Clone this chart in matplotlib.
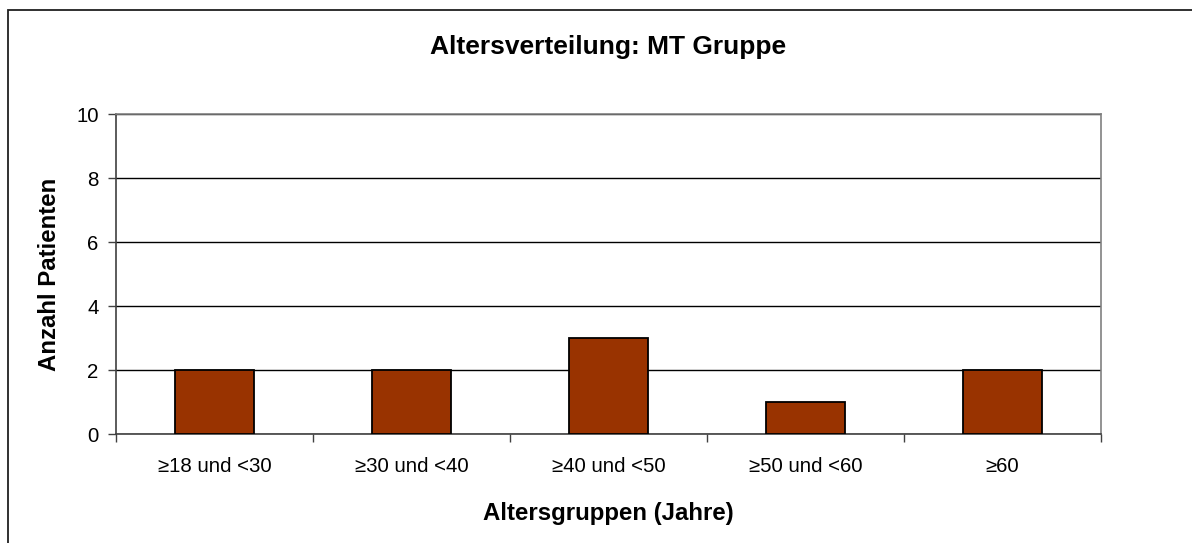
import matplotlib
matplotlib.use("Agg")
from matplotlib import pyplot as plt
from matplotlib.patches import Rectangle
import numpy as np

categories = ["\u226518 und <30", "\u226530 und <40", "\u226540 und <50", "\u226550 und <60", "\u226560"]
counts = [2, 2, 3, 1, 2]

plt.rcParams['font.family'] = ['Liberation Sans', 'DejaVu Sans']

fig = plt.figure(figsize=(11.92, 5.43), dpi=100)
ax = fig.add_axes([116/1192, 1 - 434/543, (1101 - 116)/1192, (434 - 114)/543])

x = np.arange(len(categories))
ax.bar(x, counts, width=0.405, color="#993300", edgecolor="black", linewidth=1.3, zorder=3)

ax.set_xlim(-0.5, len(categories) - 0.5)
ax.set_ylim(0, 10)
ax.set_yticks([0, 2, 4, 6, 8, 10])
ax.yaxis.grid(True, color="black", linewidth=1.0, zorder=0)
ax.set_axisbelow(True)

# ticks between the categories, labels centred
ax.set_xticks(np.arange(-0.5, len(categories), 1.0))
ax.set_xticklabels([])
ax.set_xticks(x, minor=True)
ax.set_xticklabels(categories, minor=True)
ax.tick_params(axis="x", which="minor", length=0, pad=16.5, labelsize=14.7)
ax.tick_params(axis="x", which="major", length=5.5, width=1, color="#404040", direction="out")
ax.tick_params(axis="y", length=5.5, width=1, color="#404040", direction="out", pad=7, labelsize=14.7)

for side in ["left", "bottom"]:
    ax.spines[side].set_color("#404040")
    ax.spines[side].set_linewidth(1.2)
for side in ["right", "top"]:
    ax.spines[side].set_color("#808080")
    ax.spines[side].set_linewidth(1.2)

ax.set_ylabel("Anzahl Patienten", fontsize=17.3, fontweight="bold", labelpad=11)
ax.set_xlabel("Altersgruppen (Jahre)", fontsize=17.3, fontweight="bold", labelpad=19)
fig.text(0.5 * (116 + 1101) / 1192, 1 - 47/543, "Altersverteilung: MT Gruppe",
         ha="center", va="center", fontsize=19, fontweight="bold")

# outer chart frame (cut off at right and bottom)
fig.patches.append(Rectangle((8/1192, -0.1), 1.2, 1 - 9.5/543 + 0.1, transform=fig.transFigure,
                             fill=False, edgecolor="#202020", linewidth=1.3))

plt.savefig("out.png", dpi=100)
